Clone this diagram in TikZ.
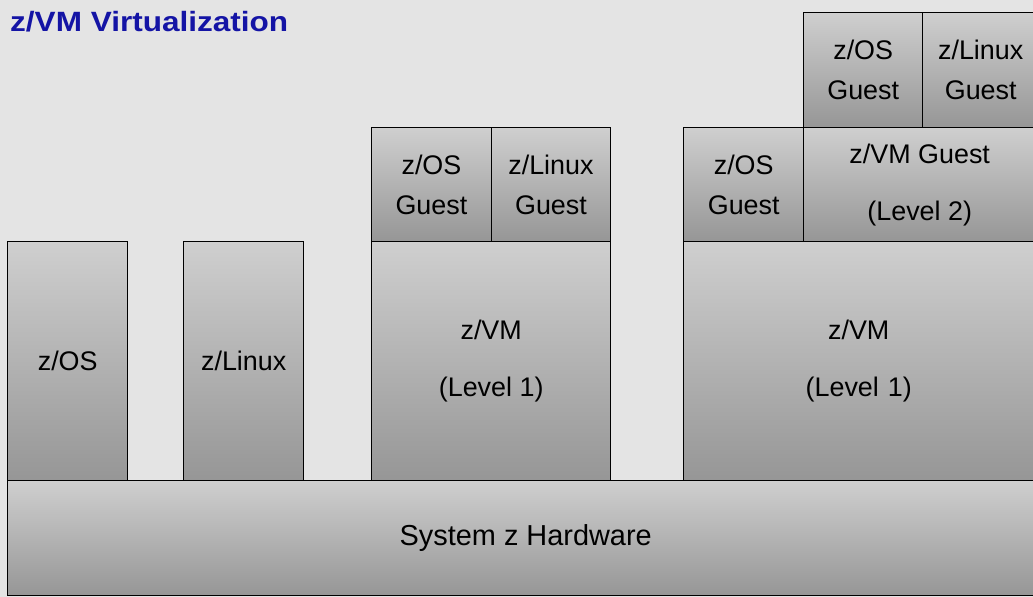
\documentclass[tikz,border=0pt]{standalone}
\usepackage{fontspec}
\setmainfont{Liberation Sans}
\definecolor{bg}{RGB}{228,228,228}
\definecolor{btop}{RGB}{207,207,207}
\definecolor{bbot}{RGB}{150,150,150}
\definecolor{ttl}{RGB}{20,20,165}
\begin{document}
\begin{tikzpicture}[x=1bp,y=-1bp,
  box/.style={draw=black, line width=1.4bp, top color=btop, bottom color=bbot,
    anchor=north west, inner sep=0pt, align=center, text=black,
    font=\fontsize{27}{40}\selectfont},
  widebox/.style={box, font=\fontsize{27}{57}\selectfont}]
\fill[bg] (0,0) rectangle (1033,597);
\useasboundingbox (0,0) rectangle (1033,597);
\node[anchor=base west, text=ttl, font=\bfseries\fontsize{28}{30}\selectfont, xscale=1.13, inner sep=0pt] (title) at (10,32) {z/VM Virtualization};
% hardware
\node[box, minimum width=1036bp, minimum height=115bp, font=\fontsize{29}{40}\selectfont] (hw) at (7,480) {System z Hardware};
% left standalone
\node[box, minimum width=120bp, minimum height=239bp] (zos) at (7,241) {z/OS};
\node[box, minimum width=120bp, minimum height=239bp] (zlinux) at (183,241) {z/Linux};
% middle stack
\node[widebox, minimum width=239bp, minimum height=239bp] (vm1a) at (371,241) {z/VM\\(Level 1)};
\node[box, minimum width=119.5bp, minimum height=114bp] (g1) at (371,127) {z/OS\\Guest};
\node[box, minimum width=119.5bp, minimum height=114bp] (g2) at (490.5,127) {z/Linux\\Guest};
% right stack
\node[widebox, minimum width=360bp, minimum height=239bp, text width=350bp] (vm1b) at (683,241) {\hspace*{-10bp}z/VM\\\hspace*{-10bp}(Level 1)};
\node[box, minimum width=120bp, minimum height=114bp] (g3) at (683,127) {z/OS\\Guest};
\node[widebox, minimum width=240bp, minimum height=114bp] (vm2) at (803,127) {\hspace*{-8bp}z/VM Guest\\\hspace*{-8bp}(Level 2)};
\node[box, minimum width=119bp, minimum height=115bp] (g4) at (803,12) {z/OS\\Guest};
\node[box, minimum width=120bp, minimum height=115bp] (g5) at (922,12) {\hspace*{-4bp}z/Linux\\\hspace*{-4bp}Guest};
\end{tikzpicture}
\end{document}
